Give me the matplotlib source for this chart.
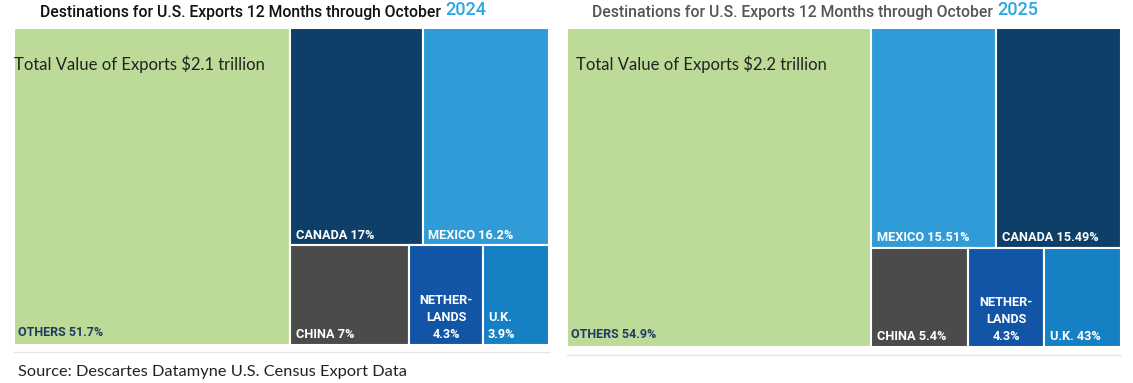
import matplotlib.pyplot as plt
from matplotlib.patches import Rectangle

plt.rcParams['font.family'] = ['Roboto', 'DejaVu Sans']

# data
others_2024 = 51.7
top_2024 = ['CANADA', 'MEXICO']
top_vals_2024 = [17.0, 16.2]
top_lbl_2024 = ['CANADA 17%', 'MEXICO 16.2%']
bot_2024 = ['CHINA', 'NETHERLANDS', 'UK']
bot_vals_2024 = [7.0, 4.3, 3.9]
bot_lbl_2024 = ['CHINA 7%', 'NETHER-\nLANDS\n4.3%', 'U.K.\n3.9%']

others_2025 = 54.9
top_2025 = ['MEXICO', 'CANADA']
top_vals_2025 = [15.51, 15.49]
top_lbl_2025 = ['MEXICO 15.51%', 'CANADA 15.49%']
bot_2025 = ['CHINA', 'NETHERLANDS', 'UK']
bot_vals_2025 = [5.4, 4.3, 4.3]
bot_lbl_2025 = ['CHINA 5.4%', 'NETHER-\nLANDS\n4.3%', 'U.K. 43%']

colors = {'OTHERS': '#bddb98', 'CANADA': '#0e3f68', 'MEXICO': '#2f9bd7',
          'CHINA': '#4b4b4b', 'NETHERLANDS': '#1255a6', 'UK': '#1580c4'}

W, H = 1133, 383
fig = plt.figure(figsize=(W / 100, H / 100), dpi=100)


def px_axes(x0, y0, x1, y1):
    return fig.add_axes([x0 / W, 1 - y1 / H, (x1 - x0) / W, (y1 - y0) / H])


def treemap(ax, others, top, top_vals, top_lbl, bot, bot_vals, bot_lbl, total_txt, tx):
    ax.set_xlim(0, 1)
    ax.set_ylim(0, 1)
    ax.axis('off')
    rest = sum(top_vals) + sum(bot_vals)
    ow = others / (others + rest)
    ax.add_patch(Rectangle((0, 0), ow, 1, fc=colors['OTHERS'], ec='white', lw=1.5))
    ax.text(0.007, 0.02, 'OTHERS %g%%' % others, color='#1f3b63', fontsize=9,
            fontweight='bold', va='bottom')
    ax.text(tx, 0.885, total_txt, fontsize=12, family=['Lato', 'DejaVu Sans'],
            color='#222222', va='center')
    th = sum(top_vals) / rest
    x = ow
    for name, v, lbl in zip(top, top_vals, top_lbl):
        w = (1 - ow) * v / sum(top_vals)
        ax.add_patch(Rectangle((x, 1 - th), w, th, fc=colors[name], ec='white', lw=1.5))
        ax.text(x + 0.01, 1 - th + 0.012, lbl, color='white', fontsize=9.2,
                fontweight='bold', va='bottom')
        x += w
    x = ow
    for name, v, lbl in zip(bot, bot_vals, bot_lbl):
        w = (1 - ow) * v / sum(bot_vals)
        ax.add_patch(Rectangle((x, 0), w, 1 - th, fc=colors[name], ec='white', lw=1.5))
        if lbl.startswith('NETHER'):
            ax.text(x + w / 2, 0.012, lbl, color='white', fontsize=9.2, fontweight='bold',
                    va='bottom', ha='center', linespacing=1.4)
        else:
            ax.text(x + 0.01, 0.012, lbl, color='white', fontsize=9.2, fontweight='bold',
                    va='bottom', ha='left', linespacing=1.4)
        x += w


ax1 = px_axes(14, 28, 549, 345)
treemap(ax1, others_2024, top_2024, top_vals_2024, top_lbl_2024,
        bot_2024, bot_vals_2024, bot_lbl_2024, 'Total Value of Exports $2.1 trillion', 0.0)
ax2 = px_axes(567, 28, 1121, 347)
treemap(ax2, others_2025, top_2025, top_vals_2025, top_lbl_2025,
        bot_2025, bot_vals_2025, bot_lbl_2025, 'Total Value of Exports $2.2 trillion', 0.016)

# titles, year in blue
title = 'Destinations for U.S. Exports 12 Months through October '
t1 = fig.text(40 / W, 1 - 13 / H, title, fontsize=11.3, fontweight='medium',
              color='#111111', va='center')
t2 = fig.text(592 / W, 1 - 13 / H, title, fontsize=11.3, fontweight='medium',
              color='#555555', va='center')
fig.canvas.draw()
r = fig.canvas.get_renderer()
for t, yr in [(t1, '2024'), (t2, '2025')]:
    bb = t.get_window_extent(r)
    fig.text(bb.x1 / W, bb.y0 / H + 0.004, yr, fontsize=13, fontweight='medium',
             color='#2aa6e0', va='bottom')

# separator lines
fig.add_artist(plt.Line2D([14 / W, 549 / W], [1 - 352 / H] * 2, color='#e6e6e6', lw=1))
fig.add_artist(plt.Line2D([567 / W, 1121 / W], [1 - 355 / H] * 2, color='#e6e6e6', lw=1))

fig.text(18 / W, 1 - 372 / H, 'Source: Descartes Datamyne U.S. Census Export Data',
         fontsize=11.8, family=['Lato', 'DejaVu Sans'], color='#222222', va='center')

fig.savefig('out.png', dpi=100)
